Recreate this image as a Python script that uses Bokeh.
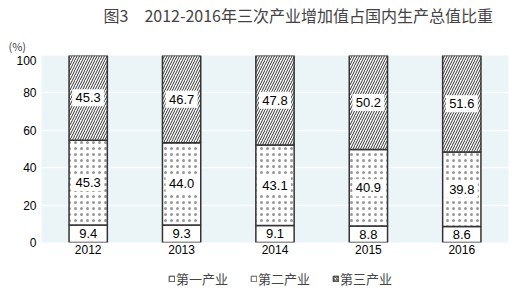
from bokeh.plotting import figure
from bokeh.layouts import column
from bokeh.models import ColumnDataSource, LabelSet, Title, Legend, LegendItem, FactorRange
from bokeh.core.properties import value
from bokeh.embed import file_html
from bokeh.resources import INLINE

years = ["2012", "2013", "2014", "2015", "2016"]
primary = [9.4, 9.3, 9.1, 8.8, 8.6]
secondary = [45.3, 44.0, 43.1, 40.9, 39.8]
tertiary = [45.3, 46.7, 47.8, 50.2, 51.6]
series_names = ["第一产业", "第二产业", "第三产业"]
title_text = "图3　2012-2016年三次产业增加值占国内生产总值比重"
unit_text = "(%)"

W = 529
L, R = 41, 21
CJK = "Noto Sans CJK SC"
NUM = "Liberation Sans"

b1 = [0.0] * len(years)
t1 = [v for v in primary]
b2 = t1
t2 = [a + b for a, b in zip(t1, secondary)]
b3 = t2
t3 = [100.0] * len(years)

src = ColumnDataSource(dict(
    x=years, b1=b1, t1=t1, b2=b2, t2=t2, b3=b3, t3=t3,
    p=[f"{v:.1f}" for v in primary],
    s=[f"{v:.1f}" for v in secondary],
    t=[f"{v:.1f}" for v in tertiary],
    c1=[(a + b) / 2 for a, b in zip(b1, t1)],
    c2=[(a + b) / 2 for a, b in zip(b2, t2)],
    c3=[(a + b) / 2 for a, b in zip(b3, t3)],
))

def blank(h, bottom=0):
    f = figure(width=W, height=h, x_range=(L, W - R), y_range=(0, h), output_backend="svg",
               toolbar_location=None, min_border_left=L, min_border_right=R,
               min_border_top=0, min_border_bottom=bottom)
    f.axis.visible = False
    f.grid.visible = False
    f.outline_line_color = None
    f.background_fill_color = "white"
    f.border_fill_color = "white"
    return f

# header: main title above, unit text below (titles are not clipped to the frame)
hdr = blank(55, bottom=20)
hdr.title.text = title_text
hdr.title.text_font = CJK
hdr.title.text_font_size = "16px"
hdr.title.text_font_style = "normal"
hdr.title.align = "left"
hdr.title.offset = 103 - L
hdr.title.standoff = 0
unit = Title(text=unit_text, text_font=CJK, text_font_size="11px", text_font_style="normal",
             align="left", offset=8 - L, standoff=0)
hdr.add_layout(unit, "below")

# main chart
p = figure(width=W, height=207, x_range=FactorRange(*years), y_range=(0, 100),
           output_backend="svg", toolbar_location=None,
           min_border_left=L, min_border_right=R, min_border_top=0, min_border_bottom=20)
p.background_fill_color = "#EBF5F8"
p.border_fill_color = "white"
p.outline_line_color = None

bw = 0.41
style = dict(width=bw, source=src, fill_color="white", line_color="#333333", line_width=1.5)
r1 = p.vbar(x="x", bottom="b1", top="t1", **style)
r2 = p.vbar(x="x", bottom="b2", top="t2", hatch_pattern="dot", hatch_color="black",
            hatch_scale=6, hatch_alpha=0.4, **style)
r3 = p.vbar(x="x", bottom="b3", top="t3", hatch_pattern="right_diagonal_line",
            hatch_color="black", hatch_scale=5, hatch_weight=0.8, **style)

for ycol in ("c2", "c3"):
    p.rect(x="x", y=ycol, width=32, height=17, width_units="screen", height_units="screen",
           source=src, fill_color="white", line_color=None)

for col, ycol in [("p", "c1"), ("s", "c2"), ("t", "c3")]:
    p.add_layout(LabelSet(x="x", y=ycol, text=col, source=src, text_align="center",
                          text_baseline="middle", text_font=value(NUM),
                          text_font_size=value("13px"), text_color="black"))

p.xgrid.grid_line_color = None
p.ygrid.grid_line_color = "white"
p.ygrid.grid_line_width = 1.5
p.yaxis.ticker = [0, 20, 40, 60, 80, 100]
for ax in (p.xaxis, p.yaxis):
    ax.axis_line_color = None
    ax.major_tick_line_color = None
    ax.minor_tick_line_color = None
    ax.major_tick_out = 0
    ax.major_tick_in = 0
    ax.minor_tick_out = 0
    ax.minor_tick_in = 0
    ax.major_label_text_font = NUM
    ax.major_label_text_font_size = "12px"
    ax.major_label_text_color = "black"
p.xaxis.major_label_standoff = 2
p.yaxis.major_label_standoff = 5

# footer legend
ftr = blank(40)
d1 = ftr.rect(x=[-100], y=[-100], width=1, height=1, fill_color="white",
              line_color="#333333", line_width=1)
d2 = ftr.rect(x=[-100], y=[-100], width=1, height=1, fill_color="white",
              line_color="#555555", line_width=1)
d3 = ftr.rect(x=[-100], y=[-100], width=1, height=1, fill_color="white",
              line_color="#333333", line_width=1, hatch_pattern="right_diagonal_line",
              hatch_color="black", hatch_scale=3, hatch_weight=0.8)
legend = Legend(items=[LegendItem(label=series_names[0], renderers=[d1]),
                       LegendItem(label=series_names[1], renderers=[d2]),
                       LegendItem(label=series_names[2], renderers=[d3])],
                orientation="horizontal", location=(168 - L, 14),
                glyph_width=7, glyph_height=7, spacing=22, label_standoff=1,
                label_text_font=CJK, label_text_font_size="13px", label_height=16,
                border_line_color=None, background_fill_alpha=0, padding=0, margin=0)
ftr.add_layout(legend)

layout = column(hdr, p, ftr, spacing=0)
open("out.html", "w").write(file_html(layout, INLINE))
